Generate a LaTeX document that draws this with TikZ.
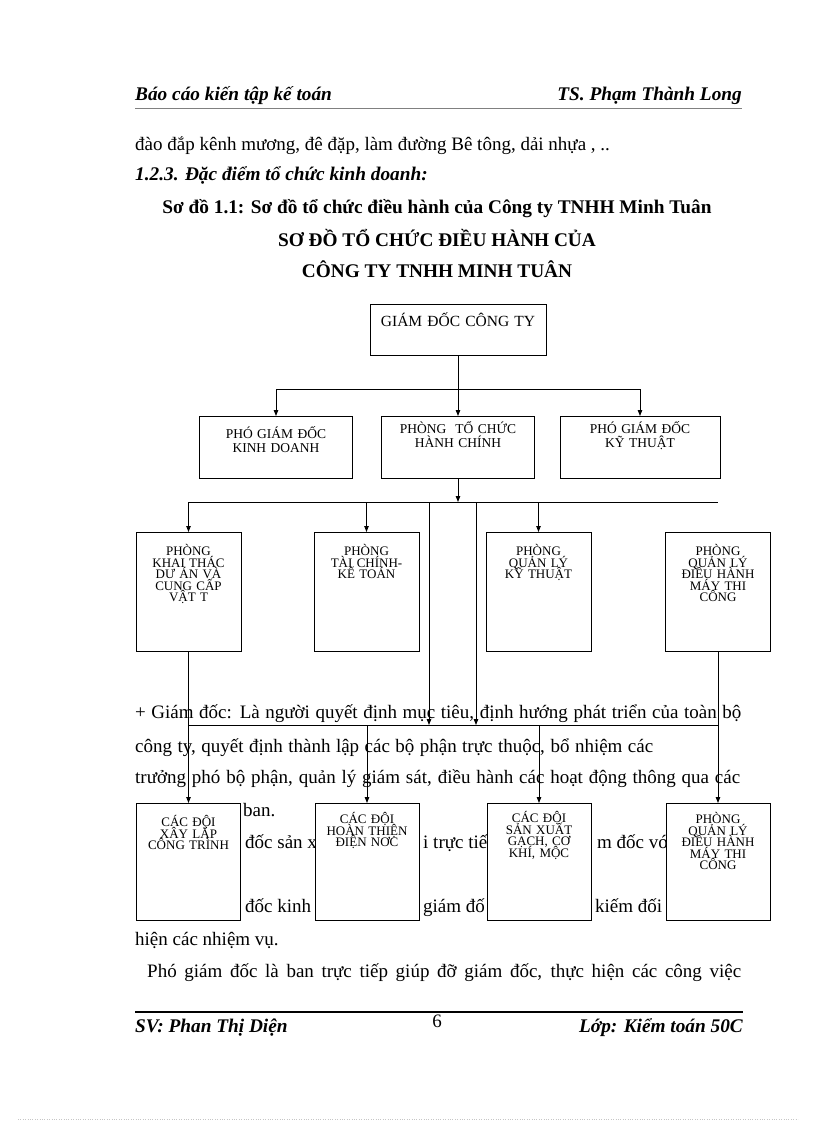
\documentclass[tikz,border=0pt]{standalone}
\usepackage{fontspec}
\setmainfont{Liberation Serif}
\usetikzlibrary{positioning,arrows.meta,backgrounds}
\tikzset{
  mtkhung/.style={draw, fill=white, line width=1pt, align=center, inner sep=0pt, anchor=north,
                  font=\fontsize{13}{11.5}\selectfont, execute at begin node={\lineskiplimit=-50pt}},
  mtseta/.style={-{Triangle[length=6pt,width=4.5pt]}, line width=0.9pt},
  mtduong/.style={line width=0.9pt},
  mtvan/.style={anchor=base west, inner sep=0pt, font=\fontsize{19}{22}\selectfont},
  mtdam/.style={anchor=base, inner sep=0pt, font=\fontsize{19.3}{22}\selectfont\bfseries},
  mtnghieng/.style={inner sep=0pt, font=\fontsize{19.3}{22}\selectfont\bfseries\itshape},
}

\begin{document}
\begin{tikzpicture}[x=1pt, y=-1pt,
        h1/.style={mtkhung, text width=176pt, text height=22pt, text depth=29pt, font=\fontsize{15.5}{18}\selectfont},
        h2/.style={mtkhung, text width=153pt, text height=17pt, text depth=45pt, font=\fontsize{13.5}{14}\selectfont},
        h3/.style={mtkhung, text width=105pt, text height=23pt, text depth=96pt},
        h4/.style={mtkhung, text width=104pt, text height=23pt, text depth=94pt}
    ]
        \useasboundingbox (0,0) rectangle (816,1123);
        \begin{pgfonlayer}{background}
        \fill[white] (0,0) rectangle (816,1123);
        % dau trang
        \node[mtnghieng, anchor=base west] (dautrai) at (135,101) {Báo cáo kiến tập kế toán};
        \node[mtnghieng, anchor=base east] (dauphai) at (742,101) {TS. Phạm Thành Long};
        \draw[gray, line width=0.8pt] (135,108) -- (742,108);
        % doan van tren
        \node[mtvan] (v1) at (135,151) {đào đắp kênh mương, đê đặp, làm đường Bê tông, dải nhựa , ..};
        \node[mtnghieng, anchor=base west] (muc) at (135,181) {1.2.3. Đặc điểm tổ chức kinh doanh:};
        \node[mtdam] (sodo) at (437,214) {Sơ đồ 1.1: Sơ đồ tổ chức điều hành của Công ty TNHH Minh Tuân};
        \node[mtdam] (tieude1) at (437,246) {SƠ ĐỒ TỔ CHỨC ĐIỀU HÀNH CỦA};
        \node[mtdam] (tieude2) at (437,277) {CÔNG TY TNHH MINH TUÂN};
        % doan van duoi (bi che)
        \node[mtvan] (g1) at (135,718) {\makebox[606pt][s]{+ Giám đốc: Là người quyết định mục tiêu, định hướng phát triển của toàn bộ}};
        \node[mtvan] (g2) at (135,752) {\makebox[518pt][s]{công ty, quyết định thành lập các bộ phận trực thuộc, bổ nhiệm các}};
        \node[mtvan] (g3) at (135,783) {\makebox[605pt][s]{trưởng phó bộ phận, quản lý giám sát, điều hành các hoạt động thông qua các}};
        \node[mtvan] (g4) at (243,816) {ban.};
        \node[mtvan] (g5) at (245,848) {đốc sản x};
        \node[mtvan] (g6) at (423,848) {i trực tiế};
        \node[mtvan] (g7) at (597,848) {m đốc vớ};
        \node[mtvan] (g8) at (245,912) {đốc kinh};
        \node[mtvan] (g9) at (423,912) {giám đố};
        \node[mtvan] (g10) at (595,912) {kiếm đối};
        \node[mtvan] (g11) at (135,945) {hiện các nhiệm vụ.};
        \node[mtvan] (g12) at (147,977) {\makebox[594pt][s]{Phó giám đốc là ban trực tiếp giúp đỡ giám đốc, thực hiện các công việc}};
        % chan trang
        \draw[line width=1.6pt] (135,1012) -- (743,1012);
        \node[mtnghieng, anchor=base west] (cuoitrai) at (135,1032) {SV: Phan Thị Diện};
        \node[mtvan, anchor=base] (trang) at (437,1027) {6};
        \node[mtnghieng, anchor=base east] (cuoiphai) at (743,1032) {Lớp: Kiểm toán 50C};
        \draw[gray!45, dotted] (18,1119) -- (798,1119);
        \end{pgfonlayer}
        % cap 1 va 2
        \node[h1] (gd) at (458,304) {GIÁM ĐỐC CÔNG TY};
        \node[h2, text height=22pt, text depth=40pt] (pgdkd) at (276,416) {PHÓ GIÁM ĐỐC\\KINH DOANH};
        \node[h2] (ptchc) at (458,416) {PHÒNG\ \ TỔ CHỨC\\HÀNH CHÍNH};
        \node[h2, text width=160pt] (pgdkt) at (640,416) {PHÓ GIÁM ĐỐC\\KỸ THUẬT};
        % cap 3
        \node[h3] (pkhaithac) at (188.5,532) {PHÒNG\\KHAI THÁC\\DƯ ÁN VÀ\\CUNG CẤP\\VẬT T};
        \node[h3] (ptaichinh) at (366.5,532) {PHÒNG\\TÀI CHÍNH-\\KẾ TOÁN};
        \node[h3] (pkythuat) at (538.5,532) {PHÒNG\\QUẢN LÝ\\KỸ THUẬT};
        \node[h3] (pmaythi) at (718,532) {PHÒNG\\QUẢN LÝ\\ĐIỀU HÀNH\\MÁY THI\\CÔNG};
        % cap 4
        \node[h4] (dxaylap) at (188.5,803) {CÁC ĐỘI\\XÂY LẮP\\CÔNG TRÌNH};
        \node[h4, text height=20pt, text depth=97pt] (dhoanthien) at (367,803) {CÁC ĐỘI\\HOÀN THIỆN\\ĐIỆN NƠC};
        \node[h4, text height=19pt, text depth=98pt] (dsanxuat) at (539,803) {CÁC ĐỘI\\SẢN XUẤT\\GẠCH, CƠ\\KHÍ, MỘC};
        \node[h4, text height=20pt, text depth=97pt] (pmaythi2) at (718,803) {PHÒNG\\QUẢN LÝ\\ĐIỀU HÀNH\\MÁY THI\\CÔNG};
        % diem nut
        \coordinate (tren) at (458,389);
        \coordinate (giua) at (458,502);
        \coordinate (duoi) at (458,725);
        \coordinate (nhanh1) at (429,502);
        \coordinate (nhanh2) at (476,502);
        % duong noi
        \draw[mtseta] (gd.south) -- (ptchc.north);
        \draw[mtduong] (pgdkd.north |- tren) -- (pgdkt.north |- tren);
        \draw[mtseta] (pgdkd.north |- tren) -- (pgdkd.north);
        \draw[mtseta] (pgdkt.north |- tren) -- (pgdkt.north);
        \draw[mtseta] (ptchc.south) -- (giua);
        \draw[mtduong] (pkhaithac.north |- giua) -- (pmaythi.north |- giua);
        \draw[mtseta] (pkhaithac.north |- giua) -- (pkhaithac.north);
        \draw[mtseta] (ptaichinh.north |- giua) -- (ptaichinh.north);
        \draw[mtseta] (pkythuat.north |- giua) -- (pkythuat.north);
        \draw[mtseta] (nhanh1) -- (nhanh1 |- duoi);
        \draw[mtseta] (nhanh2) -- (nhanh2 |- duoi);
        \draw[mtduong] (pkhaithac.south |- duoi) -- (pmaythi.south |- duoi);
        \draw[mtseta] (pkhaithac.south) -- (dxaylap.north);
        \draw[mtseta] (dhoanthien.north |- duoi) -- (dhoanthien.north);
        \draw[mtseta] (dsanxuat.north |- duoi) -- (dsanxuat.north);
        \draw[mtseta] (pmaythi.south) -- (pmaythi2.north);
\end{tikzpicture}
\end{document}
